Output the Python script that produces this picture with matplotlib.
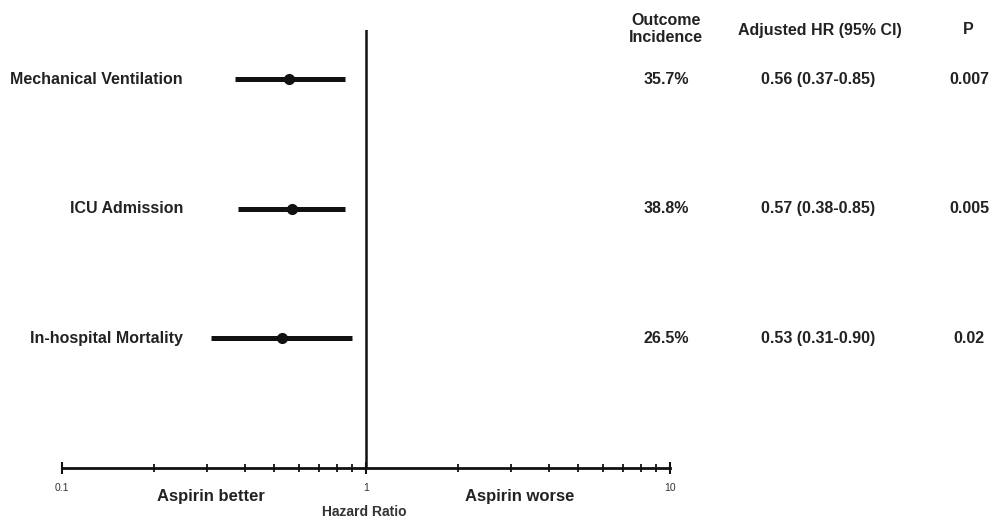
import matplotlib
matplotlib.use("Agg")
from matplotlib import pyplot as plt
from matplotlib.transforms import blended_transform_factory
from matplotlib.ticker import LogLocator, NullFormatter, FixedLocator, FixedFormatter

plt.rcParams['font.family'] = ['Liberation Sans', 'DejaVu Sans']

outcomes = ["Mechanical Ventilation", "ICU Admission", "In-hospital Mortality"]
hr = [0.56, 0.57, 0.53]
ci_low = [0.37, 0.38, 0.31]
ci_high = [0.85, 0.85, 0.90]
incidence = ["35.7%", "38.8%", "26.5%"]
hr_text = ["0.56 (0.37-0.85)", "0.57 (0.38-0.85)", "0.53 (0.31-0.90)"]
p_values = ["0.007", "0.005", "0.02"]
rows = [3, 2, 1]

W, H = 995, 520
fig = plt.figure(figsize=(W / 100, H / 100), dpi=100)
ax = fig.add_axes([62 / W, 1 - 468 / H, (670 - 62) / W, (468 - 30) / H])

for y, m, lo, hi in zip(rows, hr, ci_low, ci_high):
    ax.plot([lo, hi], [y, y], color='#111111', lw=3.6, solid_capstyle='butt', zorder=3)
    ax.plot(m, y, 'o', color='#111111', ms=7, zorder=4)

ax.axvline(1, color='#111111', lw=1.8, zorder=2)

ax.set_xscale('log')
ax.set_xlim(0.1, 10)
ax.set_ylim(0, 3.38)

for s in ['top', 'right', 'left']:
    ax.spines[s].set_visible(False)
ax.spines['bottom'].set_linewidth(2)
ax.spines['bottom'].set_color('#111111')
ax.set_yticks([])

ax.xaxis.set_major_locator(FixedLocator([0.1, 1, 10]))
ax.xaxis.set_major_formatter(FixedFormatter(["0.1", "1", "10"]))
ax.xaxis.set_minor_locator(LogLocator(base=10, subs=range(2, 10)))
ax.xaxis.set_minor_formatter(NullFormatter())
ax.tick_params(axis='x', which='major', direction='inout', length=8, width=1.5,
               labelsize=7.5, pad=7, colors='#111111', labelcolor='#333333')
ax.tick_params(axis='x', which='minor', direction='inout', length=6, width=1.3,
               colors='#111111')

ax.text(211 / W, 1 - 497 / H, "Aspirin better", transform=fig.transFigure,
        ha='center', va='center', fontsize=12, fontweight='bold', color='#222222')
ax.text(520 / W, 1 - 497 / H, "Aspirin worse", transform=fig.transFigure,
        ha='center', va='center', fontsize=12, fontweight='bold', color='#222222')
ax.text(364 / W, 1 - 512 / H, "Hazard Ratio", transform=fig.transFigure,
        ha='center', va='center', fontsize=10, fontweight='bold', color='#333333')

tr = blended_transform_factory(fig.transFigure, ax.transData)
fs = 11.5
for y, name, inc, h, p in zip(rows, outcomes, incidence, hr_text, p_values):
    ax.text(183 / W, y, name, transform=tr, ha='right', va='center',
            fontsize=fs, fontweight='bold', color='#222222', clip_on=False)
    ax.text(666 / W, y, inc, transform=tr, ha='center', va='center',
            fontsize=fs, fontweight='bold', color='#222222', clip_on=False)
    ax.text(818 / W, y, h, transform=tr, ha='center', va='center',
            fontsize=fs, fontweight='bold', color='#222222', clip_on=False)
    ax.text(969 / W, y, p, transform=tr, ha='center', va='center',
            fontsize=fs, fontweight='bold', color='#222222', clip_on=False)

fig.text(666 / W, 1 - 29 / H, "Outcome\nIncidence", ha='center', va='center',
         fontsize=fs, fontweight='bold', color='#222222', linespacing=1.15)
fig.text(820 / W, 1 - 30 / H, "Adjusted HR (95% CI)", ha='center', va='center',
         fontsize=fs, fontweight='bold', color='#222222')
fig.text(968 / W, 1 - 30 / H, "P", ha='center', va='center',
         fontsize=fs, fontweight='bold', color='#222222')

fig.savefig("out.png", dpi=100)
